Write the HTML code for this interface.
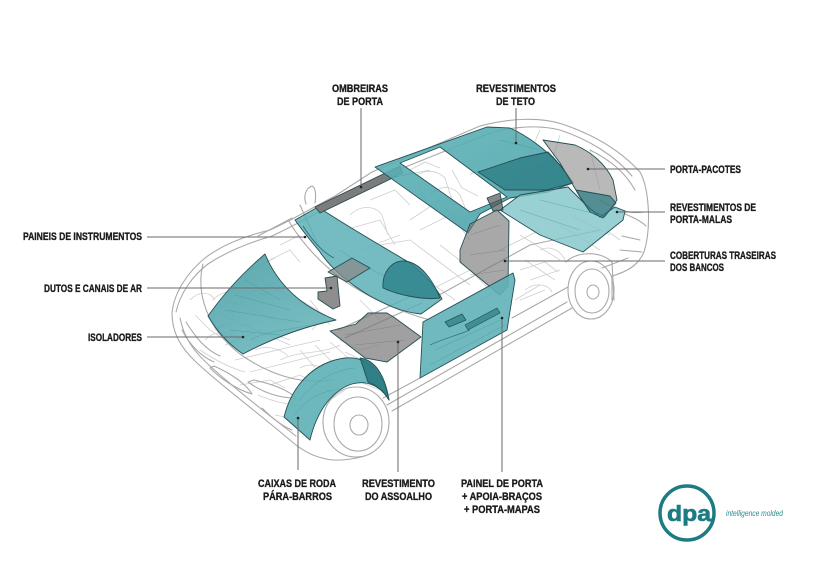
<!DOCTYPE html>
<html><head><meta charset="utf-8"><style>
html,body{margin:0;padding:0;background:#fff;}
svg{display:block;}
text{font-family:"Liberation Sans",Arial,sans-serif;font-weight:bold;fill:#1b1b1b;}
</style></head><body>
<svg width="819" height="579" viewBox="0 0 819 579" xmlns="http://www.w3.org/2000/svg">
<rect width="819" height="579" fill="#fff"/>

<!-- interior clutter (behind) -->
<g fill="none" stroke="#cfcfcf" stroke-width="0.8">
  <path d="M228,300 L300,330 M222,315 L290,345 M260,280 L330,318 M235,360 L320,340 M250,372 L330,352 M280,360 C300,350 320,355 340,345"/>
  <path d="M300,350 L330,385 M315,345 L345,375 M330,342 L360,368 M270,385 L300,375 L330,392"/>
  <path d="M215,330 C230,320 250,322 262,335 M225,345 L260,330 L290,340 M240,300 L255,290 L275,300 M300,300 L325,315 L312,330"/>
  <path d="M255,350 C265,345 280,348 288,356 M300,368 C310,362 325,366 330,374 M340,340 L360,350 L380,345 M345,352 L372,365"/>
  <path d="M266,262 L290,250 L300,262 M280,245 L300,235 M250,270 L275,258"/>
  <path d="M412,180 C420,170 435,168 445,178 L452,200 M430,195 C440,185 452,185 460,195 L466,210 M470,175 C478,168 490,170 494,180"/>
  <path d="M418,186 L428,205 L445,212 M452,170 L462,188 L478,196 M410,170 L425,162 L440,168"/>
  <path d="M410,220 L440,200 L470,240 M420,230 L450,215 M345,230 L380,220 L395,245 M360,250 L400,235"/>
  <path d="M350,215 C360,205 375,205 382,215 L388,235 M370,200 L395,190 L410,205 M380,245 L410,240 L430,255"/>
  <path d="M520,235 L560,260 M525,260 L555,280 M530,280 L560,270 M540,250 C550,245 560,250 565,260 M515,300 L540,285 M500,250 L540,230"/>
  <path d="M560,225 L600,250 M570,215 L610,235 M606,230 L620,240 M520,270 L545,262 L558,272 M525,290 C535,282 548,284 552,292"/>
  <path d="M212,300 C230,285 250,290 262,300 M205,340 C215,330 230,330 240,340"/>
  <path d="M430,255 L470,285 M440,245 L462,262 M420,275 L455,300"/>
  <path d="M540,130 L520,175 M560,135 L548,175 M590,150 L600,190"/>
  <path d="M190,300 C200,290 210,292 215,300 M195,315 L210,330 L225,340 M200,350 C215,360 230,368 245,372"/>
  <path d="M258,395 C270,400 285,405 300,405 M275,415 L300,420 M240,385 L270,380 L285,388"/>
  <path d="M330,400 L345,390 M355,380 L380,390 M310,300 L330,325 M360,300 L380,320"/>
  <path d="M430,290 L470,270 L490,290 M520,300 L545,290 M480,300 L500,290"/>
</g>

<!-- ===== Car body outline ===== -->
<g fill="none" stroke="#a9a9a9" stroke-width="1.1" stroke-linejoin="round" stroke-linecap="round">
  <path d="M172,313 C174,292 188,272 205,258 C222,245 245,236 270,230 C292,220 312,208 335,196 L372,172 L480,126 C510,118 540,117 562,124 C592,134 620,150 640,172 C650,190 651,230 644,252 C638,266 626,272 612,276"/>
  <path d="M176,312 C180,294 192,276 208,264 C226,252 248,243 272,236 C294,226 314,214 338,202"/>
  <path d="M172,313 C172,332 180,347 196,362 C218,383 252,408 290,440 C300,449 310,455 322,458"/>
  <path d="M180,318 C184,338 194,352 210,366 C232,386 262,410 296,436"/>
  <path d="M203,264 C196,292 206,328 240,354 C268,374 300,385 332,380"/>
  <path d="M182,330 C190,345 200,356 214,362 M186,322 C196,338 206,350 220,356"/>
  <path d="M210,368 C222,380 238,390 252,394 C246,384 232,374 214,366 Z"/>
  <path d="M248,382 C262,392 278,398 296,398 C288,390 272,384 254,380 Z"/>
  <path d="M262,408 C272,418 282,426 292,430"/>
  <ellipse cx="356" cy="422" rx="33" ry="35"/>
  <ellipse cx="358" cy="424" rx="24" ry="27"/>
  <ellipse cx="359" cy="425" rx="9" ry="10"/>
  <path d="M322,458 C335,462 350,460 365,456"/>
  <path d="M387,405 L567,302"/>
  <path d="M392,411 L572,308"/>
  <path d="M383,398 L420,378 M512,318 L568,287"/>
  <path d="M338,330 L420,292 M430,300 L530,245 L600,230"/>
  <path d="M345,338 L422,303"/>
  <ellipse cx="591" cy="290" rx="23" ry="29"/>
  <ellipse cx="592" cy="291" rx="17" ry="22"/>
  <ellipse cx="593" cy="292" rx="6" ry="7"/>
  <path d="M566,262 C575,252 600,250 612,262 L614,300"/>
  <path d="M612,276 L612,300 M625,214 C635,218 642,222 646,226 M600,200 C615,210 630,214 644,212"/>
  <path d="M622,236 L640,240 M620,250 L642,252 M602,268 L628,258"/>
  <path d="M383,176 L490,133 C515,126 540,125 560,130 C590,140 615,156 632,176"/>
  <path d="M590,150 C610,160 625,172 635,190"/>
  <path d="M306,204 C303,196 306,188 312,186 C316,188 316,196 315,203"/>
  <path d="M288,220 C300,240 318,262 346,282 C370,298 400,312 430,320"/>
  <path d="M258,236 L292,218"/>
  <path d="M300,205 L318,245"/>
</g>

<!-- ===== Teal / grey parts ===== -->
<defs>
  <linearGradient id="gHood" x1="0" y1="0" x2="0.6" y2="1">
    <stop offset="0" stop-color="#4a9ea5"/><stop offset="1" stop-color="#6ab7bc"/>
  </linearGradient>
  <linearGradient id="gRoof" x1="0" y1="0" x2="1" y2="1">
    <stop offset="0" stop-color="#5fb3b8"/><stop offset="1" stop-color="#4aa2a8"/>
  </linearGradient>
</defs>
<g stroke="#244e53" stroke-width="0.9" stroke-linejoin="round">
  <path d="M265,254 Q284,300 336,320 Q288,330 243,354 Q222,340 208,316 Q232,282 265,254 Z" fill="url(#gHood)" fill-opacity="0.9"/>
  <path d="M295,220 L318,207 C350,228 385,248 410,263 C425,275 436,287 442,299 L421,314 C400,312 385,304 370,296 C350,284 332,270 320,252 C310,240 302,230 295,220 Z" fill="#5cb0b6" fill-opacity="0.85"/>
  <path d="M303,226 C312,240 322,252 334,258" fill="none" stroke="#2f6f75"/>
  <path d="M383,288 C382,272 392,260 405,261 C420,263 432,278 440,298 C425,300 400,296 383,288 Z" fill="#2f848b" fill-opacity="0.85"/>
  <path d="M328,272 L352,258 L370,268 L347,282 Z" fill="#8a8a8a" fill-opacity="0.75"/>
  <path d="M325,278 L337,276 L340,306 L333,309 L318,299 L318,292 L327,291 Z" fill="#7a7a7a" fill-opacity="0.85"/>
  <path d="M315,207 L400,166 L403,173 L320,213 Z" fill="#7c7c7c"/>
  <path fill-rule="evenodd" d="M375,167 L487,127 L510,128 C528,136 546,150 560,165 L573,183 L548,192 L510,198 L480,214 L468,233 Z M400,163 L440,147 L507,197 L470,212 Z" fill="url(#gRoof)" fill-opacity="0.9"/>
  <path d="M478,172 L520,158 L548,152 C558,162 566,172 573,183 L546,190 L505,190 Z" fill="#2a7a81" fill-opacity="0.75"/>
  <path d="M543,140 L575,145 C592,152 606,165 613,180 L617,200 L605,217 L590,210 L580,197 L560,163 Z" fill="#8b8b8b" fill-opacity="0.6"/>
  <path d="M500,210 L520,195 L568,187 L585,204 L600,217 L615,207 L625,211 L623,220 L583,252 L540,235 Z" fill="#7ec4c8" fill-opacity="0.8"/>
  <path d="M576,190 L610,196 L616,203 L603,218 L590,212 L582,200 Z" fill="#2a7a81" fill-opacity="0.7"/>
  <path d="M487,198 L500,193 L503,210 L493,211 Z" fill="#555" fill-opacity="0.7"/>
  <path d="M460,262 L460,250 L470,224 L497,210 L509,221 L508,286 L500,295 Z" fill="#7a7a7a" fill-opacity="0.65"/>
  <path d="M423,322 L513,273 L515,280 L507,330 L420,378 Z" fill="#5cb0b6" fill-opacity="0.88"/>
  <path d="M445,322 L462,314 L466,320 L449,327 Z M465,325 L497,308 L500,313 L468,330 Z" fill="#3f8f95" stroke-width="0.7"/>
  <path d="M430,345 C440,340 455,336 470,330" fill="none" stroke="#2f6f75" stroke-width="0.7"/>
  <path d="M330,331 L356,324 L368,313 L387,313 L395,318 L421,337 L387,362 L365,358 Z" fill="#777" fill-opacity="0.7"/>
  <path d="M284,417 C292,385 314,362 345,358 C368,356 383,372 389,400 C380,385 366,380 352,384 C333,390 317,410 310,440 Z" fill="#5cb0b6" fill-opacity="0.9"/>
  <path d="M360,358 C375,360 385,375 389,400 C383,390 376,385 368,382 Z" fill="#2a7a81" fill-opacity="0.9"/>
</g>

<!-- texture inside teal parts -->
<g fill="none" stroke="#3e8d93" stroke-width="0.5" stroke-opacity="0.6">
  <path d="M225,310 L300,322 M235,295 L290,310 M245,280 L280,300 M230,330 L280,335 M250,340 C270,330 290,330 310,325"/>
  <path d="M300,400 C315,380 335,370 355,368 M295,415 C305,400 320,392 335,390"/>
  <path d="M340,250 C360,265 390,280 420,290 M380,180 L430,170 M500,140 L540,150 M520,210 L580,230 M540,200 L600,215"/>
  <path d="M435,350 L500,320 M430,365 L505,325"/>
</g>
<g fill="none" stroke="#666" stroke-width="0.5" stroke-opacity="0.5">
  <path d="M345,335 L400,325 M355,345 L405,340 M470,235 L500,225 M470,255 L505,250 M470,275 L505,270"/>
</g>

<!-- ===== Leader lines ===== -->
<g stroke="#6a6a6a" stroke-width="1" fill="none">
  <path d="M361,108 V187"/>
  <path d="M516,108 V143"/>
  <path d="M588,169 H665"/>
  <path d="M617,212 H665"/>
  <path d="M505,261 H665"/>
  <path d="M147,237 H305"/>
  <path d="M147,288 H331"/>
  <path d="M147,337 H243"/>
  <path d="M298,418 V470"/>
  <path d="M398,342 V472"/>
  <path d="M502,318 V472"/>
</g>
<g fill="#222">
  <circle cx="361" cy="187" r="1.3"/>
  <circle cx="516" cy="143" r="1.3"/>
  <circle cx="588" cy="169" r="1.3"/>
  <circle cx="617" cy="212" r="1.3"/>
  <circle cx="505" cy="261" r="1.3"/>
  <circle cx="305" cy="237" r="1.3"/>
  <circle cx="331" cy="288" r="1.3"/>
  <circle cx="243" cy="337" r="1.3"/>
  <circle cx="298" cy="418" r="1.3"/>
  <circle cx="398" cy="342" r="1.3"/>
  <circle cx="502" cy="318" r="1.3"/>
</g>

<!-- ===== Labels ===== -->
<g font-size="11" stroke="#1b1b1b" stroke-width="0.35">
  <text x="332" y="92" textLength="56" lengthAdjust="spacingAndGlyphs">OMBREIRAS</text>
  <text x="337" y="105" textLength="46" lengthAdjust="spacingAndGlyphs">DE PORTA</text>
  <text x="476" y="92" textLength="80" lengthAdjust="spacingAndGlyphs">REVESTIMENTOS</text>
  <text x="496" y="105" textLength="39" lengthAdjust="spacingAndGlyphs">DE TETO</text>
  <text x="670" y="173" textLength="71" lengthAdjust="spacingAndGlyphs">PORTA-PACOTES</text>
  <text x="670" y="211" textLength="86" lengthAdjust="spacingAndGlyphs">REVESTIMENTOS DE</text>
  <text x="670" y="223" textLength="62" lengthAdjust="spacingAndGlyphs">PORTA-MALAS</text>
  <text x="670" y="259" textLength="106" lengthAdjust="spacingAndGlyphs">COBERTURAS TRASEIRAS</text>
  <text x="670" y="271" textLength="54" lengthAdjust="spacingAndGlyphs">DOS BANCOS</text>
  <text x="23" y="240" textLength="119" lengthAdjust="spacingAndGlyphs">PAINEIS DE INSTRUMENTOS</text>
  <text x="44" y="292" textLength="98" lengthAdjust="spacingAndGlyphs">DUTOS E CANAIS DE AR</text>
  <text x="88" y="341" textLength="54" lengthAdjust="spacingAndGlyphs">ISOLADORES</text>
  <text x="258" y="487" textLength="78" lengthAdjust="spacingAndGlyphs">CAIXAS DE RODA</text>
  <text x="263" y="500" textLength="69" lengthAdjust="spacingAndGlyphs">PÁRA-BARROS</text>
  <text x="362" y="487" textLength="73" lengthAdjust="spacingAndGlyphs">REVESTIMENTO</text>
  <text x="365" y="500" textLength="67" lengthAdjust="spacingAndGlyphs">DO ASSOALHO</text>
  <text x="461" y="487" textLength="82" lengthAdjust="spacingAndGlyphs">PAINEL DE PORTA</text>
  <text x="462" y="500" textLength="80" lengthAdjust="spacingAndGlyphs">+ APOIA-BRAÇOS</text>
  <text x="464" y="513" textLength="76" lengthAdjust="spacingAndGlyphs">+ PORTA-MAPAS</text>
</g>

<!-- ===== Logo ===== -->
<g>
  <circle cx="687" cy="513" r="27" fill="none" stroke="#1d7c83" stroke-width="3.5"/>
  <text x="667" y="521" font-size="22" textLength="44" lengthAdjust="spacingAndGlyphs" style="fill:#1d7c83;stroke:#1d7c83;stroke-width:0.6">dpa</text>
  <path d="M708,520 L713,520" stroke="#1d7c83" stroke-width="3"/>
  <text x="726" y="516" font-size="8" textLength="57" lengthAdjust="spacingAndGlyphs" style="fill:#2a8a90;font-weight:normal;font-style:italic">intelligence molded</text>
</g>
</svg>
</body></html>
